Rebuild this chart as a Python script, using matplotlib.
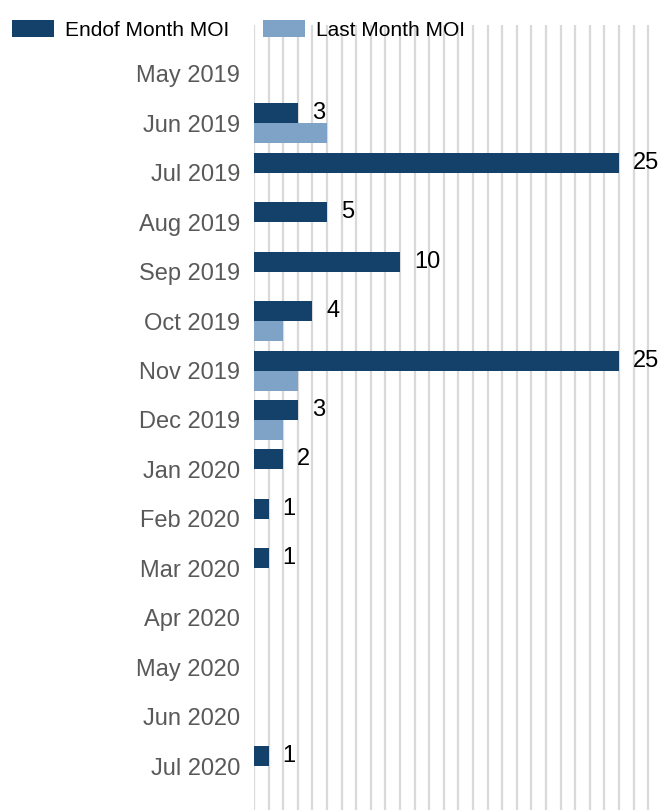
#!/usr/bin/env python3

import matplotlib
matplotlib.use('Agg')
import matplotlib.pyplot as plt
import numpy as np


MONTHS = ['May 2019', 'Jun 2019', 'Jul 2019', 'Aug 2019', 'Sep 2019',
          'Oct 2019', 'Nov 2019', 'Dec 2019', 'Jan 2020', 'Feb 2020',
          'Mar 2020', 'Apr 2020', 'May 2020', 'Jun 2020', 'Jul 2020']
END_MOI = [0, 3, 25, 5, 10, 4, 25, 3, 2, 1, 1, 0, 0, 0, 1]
LAST_MOI = [0, 5, 0, 0, 0, 2, 3, 2, 0, 0, 0, 0, 0, 0, 0]
SERIES = ['Endof Month MOI', 'Last Month MOI']

COLOURS = ['#144169', '#7fa2c7']
SET_DPI = 100
FIGSIZE = (6.58, 8.10)
BAR_H = 0.405

plt.rcParams['font.family'] = ['Liberation Sans', 'DejaVu Sans']

fig = plt.figure(figsize=FIGSIZE, dpi=SET_DPI)
ax = fig.add_axes([254 / 658, 0, 1 - 254 / 658, 1 - 25 / 810])

y = np.arange(len(MONTHS))
ax.barh(y - BAR_H / 2, END_MOI, height=BAR_H, color=COLOURS[0],
        label=SERIES[0], zorder=3)
ax.barh(y + BAR_H / 2, LAST_MOI, height=BAR_H, color=COLOURS[1],
        label=SERIES[1], zorder=3)

# value labels for the dark series only
for yi, v in zip(y, END_MOI):
    if v > 0:
        ax.annotate(str(v), (v, yi - BAR_H / 2), xytext=(10, 0),
                    textcoords='offset points', va='center', ha='left',
                    fontsize=17, color='black', annotation_clip=False)

ax.set_xlim(0, (658 - 254) / 14.6)
ax.set_ylim(14.89, -0.99)
ax.set_xticks(np.arange(0, 28))
ax.set_xticklabels([])
ax.set_yticks(y)
ax.set_yticklabels(MONTHS, fontsize=17, color='#595959')
ax.tick_params(axis='both', length=0)
ax.tick_params(axis='y', pad=10)
ax.grid(axis='x', color='#d9d9d9', linewidth=1.6, zorder=0)
ax.set_axisbelow(True)
for s in ax.spines.values():
    s.set_visible(False)

fig.legend(loc='upper left', bbox_to_anchor=(12 / 658, 1 - 20 / 810),
           ncol=2, frameon=False, fontsize=15, handlelength=2.0,
           handleheight=0.87, handletextpad=0.53, columnspacing=1.63,
           borderpad=0, borderaxespad=0)

plt.savefig('out.png', dpi=SET_DPI)
plt.close('all')
